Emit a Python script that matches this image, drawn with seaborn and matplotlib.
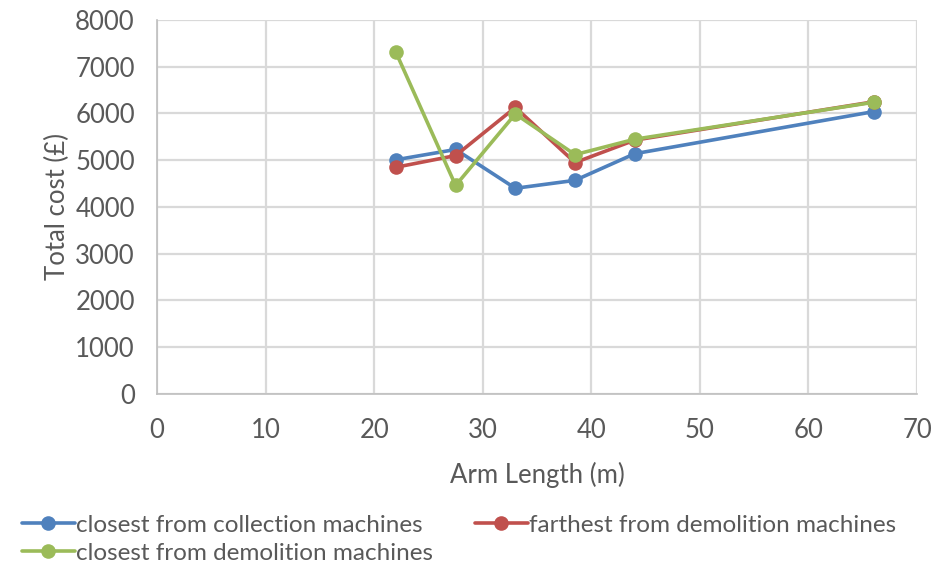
import matplotlib
matplotlib.use("Agg")
import matplotlib.pyplot as plt
import seaborn as sns
import pandas as pd

arm_length = [22, 27.5, 33, 38.5, 44, 66]
closest_collection = [5010, 5230, 4400, 4570, 5140, 6040]
farthest_demolition = [4850, 5100, 6130, 4950, 5430, 6250]
closest_demolition = [7310, 4460, 5990, 5120, 5450, 6240]

series_names = [
    "closest from collection machines",
    "farthest from demolition machines",
    "closest from demolition machines",
]
series_values = [closest_collection, farthest_demolition, closest_demolition]
colors = ["#4F81BD", "#C0504D", "#9BBB59"]

x_ticks = [0, 10, 20, 30, 40, 50, 60, 70]
y_ticks = [0, 1000, 2000, 3000, 4000, 5000, 6000, 7000, 8000]

df = pd.concat(
    [pd.DataFrame({"Arm Length (m)": arm_length, "Total cost (£)": vals, "series": name})
     for name, vals in zip(series_names, series_values)],
    ignore_index=True,
)

sns.set_theme(style="white")
plt.rcParams["font.family"] = ["Lato", "DejaVu Sans"]
text_color = "#595959"
grid_color = "#D9D9D9"
fs = 18.5

fig = plt.figure(figsize=(9.37, 5.65), dpi=100)
ax = fig.add_axes([0.1676, 0.3027, 0.8111, 0.6619])

sns.lineplot(
    data=df, x="Arm Length (m)", y="Total cost (£)", hue="series",
    hue_order=series_names, palette=colors, marker="o", markersize=10.5,
    markeredgewidth=0, linewidth=2.6, ax=ax, sort=False,
)

ax.set_xlim(0, 70)
ax.set_ylim(0, 8000)
ax.set_xticks(x_ticks)
ax.set_yticks(y_ticks)
ax.grid(True, color=grid_color, linewidth=1.6)
ax.set_axisbelow(True)
for side in ["top", "right"]:
    ax.spines[side].set_visible(False)
for side in ["left", "bottom"]:
    ax.spines[side].set_color("#BFBFBF")
    ax.spines[side].set_linewidth(1.2)
ax.tick_params(axis="both", length=0, labelsize=fs, colors=text_color)
ax.tick_params(axis="x", pad=17)
ax.tick_params(axis="y", pad=16)
ax.set_xlabel("Arm Length (m)", fontsize=fs, color=text_color, labelpad=14)
ax.set_ylabel("Total cost (£)", fontsize=fs, color=text_color, labelpad=4)

handles, labels = ax.get_legend_handles_labels()
ax.get_legend().remove()
order = [0, 2, 1]
leg = fig.legend(
    [handles[i] for i in order], [labels[i] for i in order],
    loc="lower left", bbox_to_anchor=(0.005, -0.028), ncol=2, frameon=False,
    fontsize=17.5, handlelength=2.2, handletextpad=0.05, columnspacing=1.7,
    labelspacing=0.3, borderaxespad=0.3,
)
for t in leg.get_texts():
    t.set_color(text_color)

fig.savefig("out.png", dpi=100)
